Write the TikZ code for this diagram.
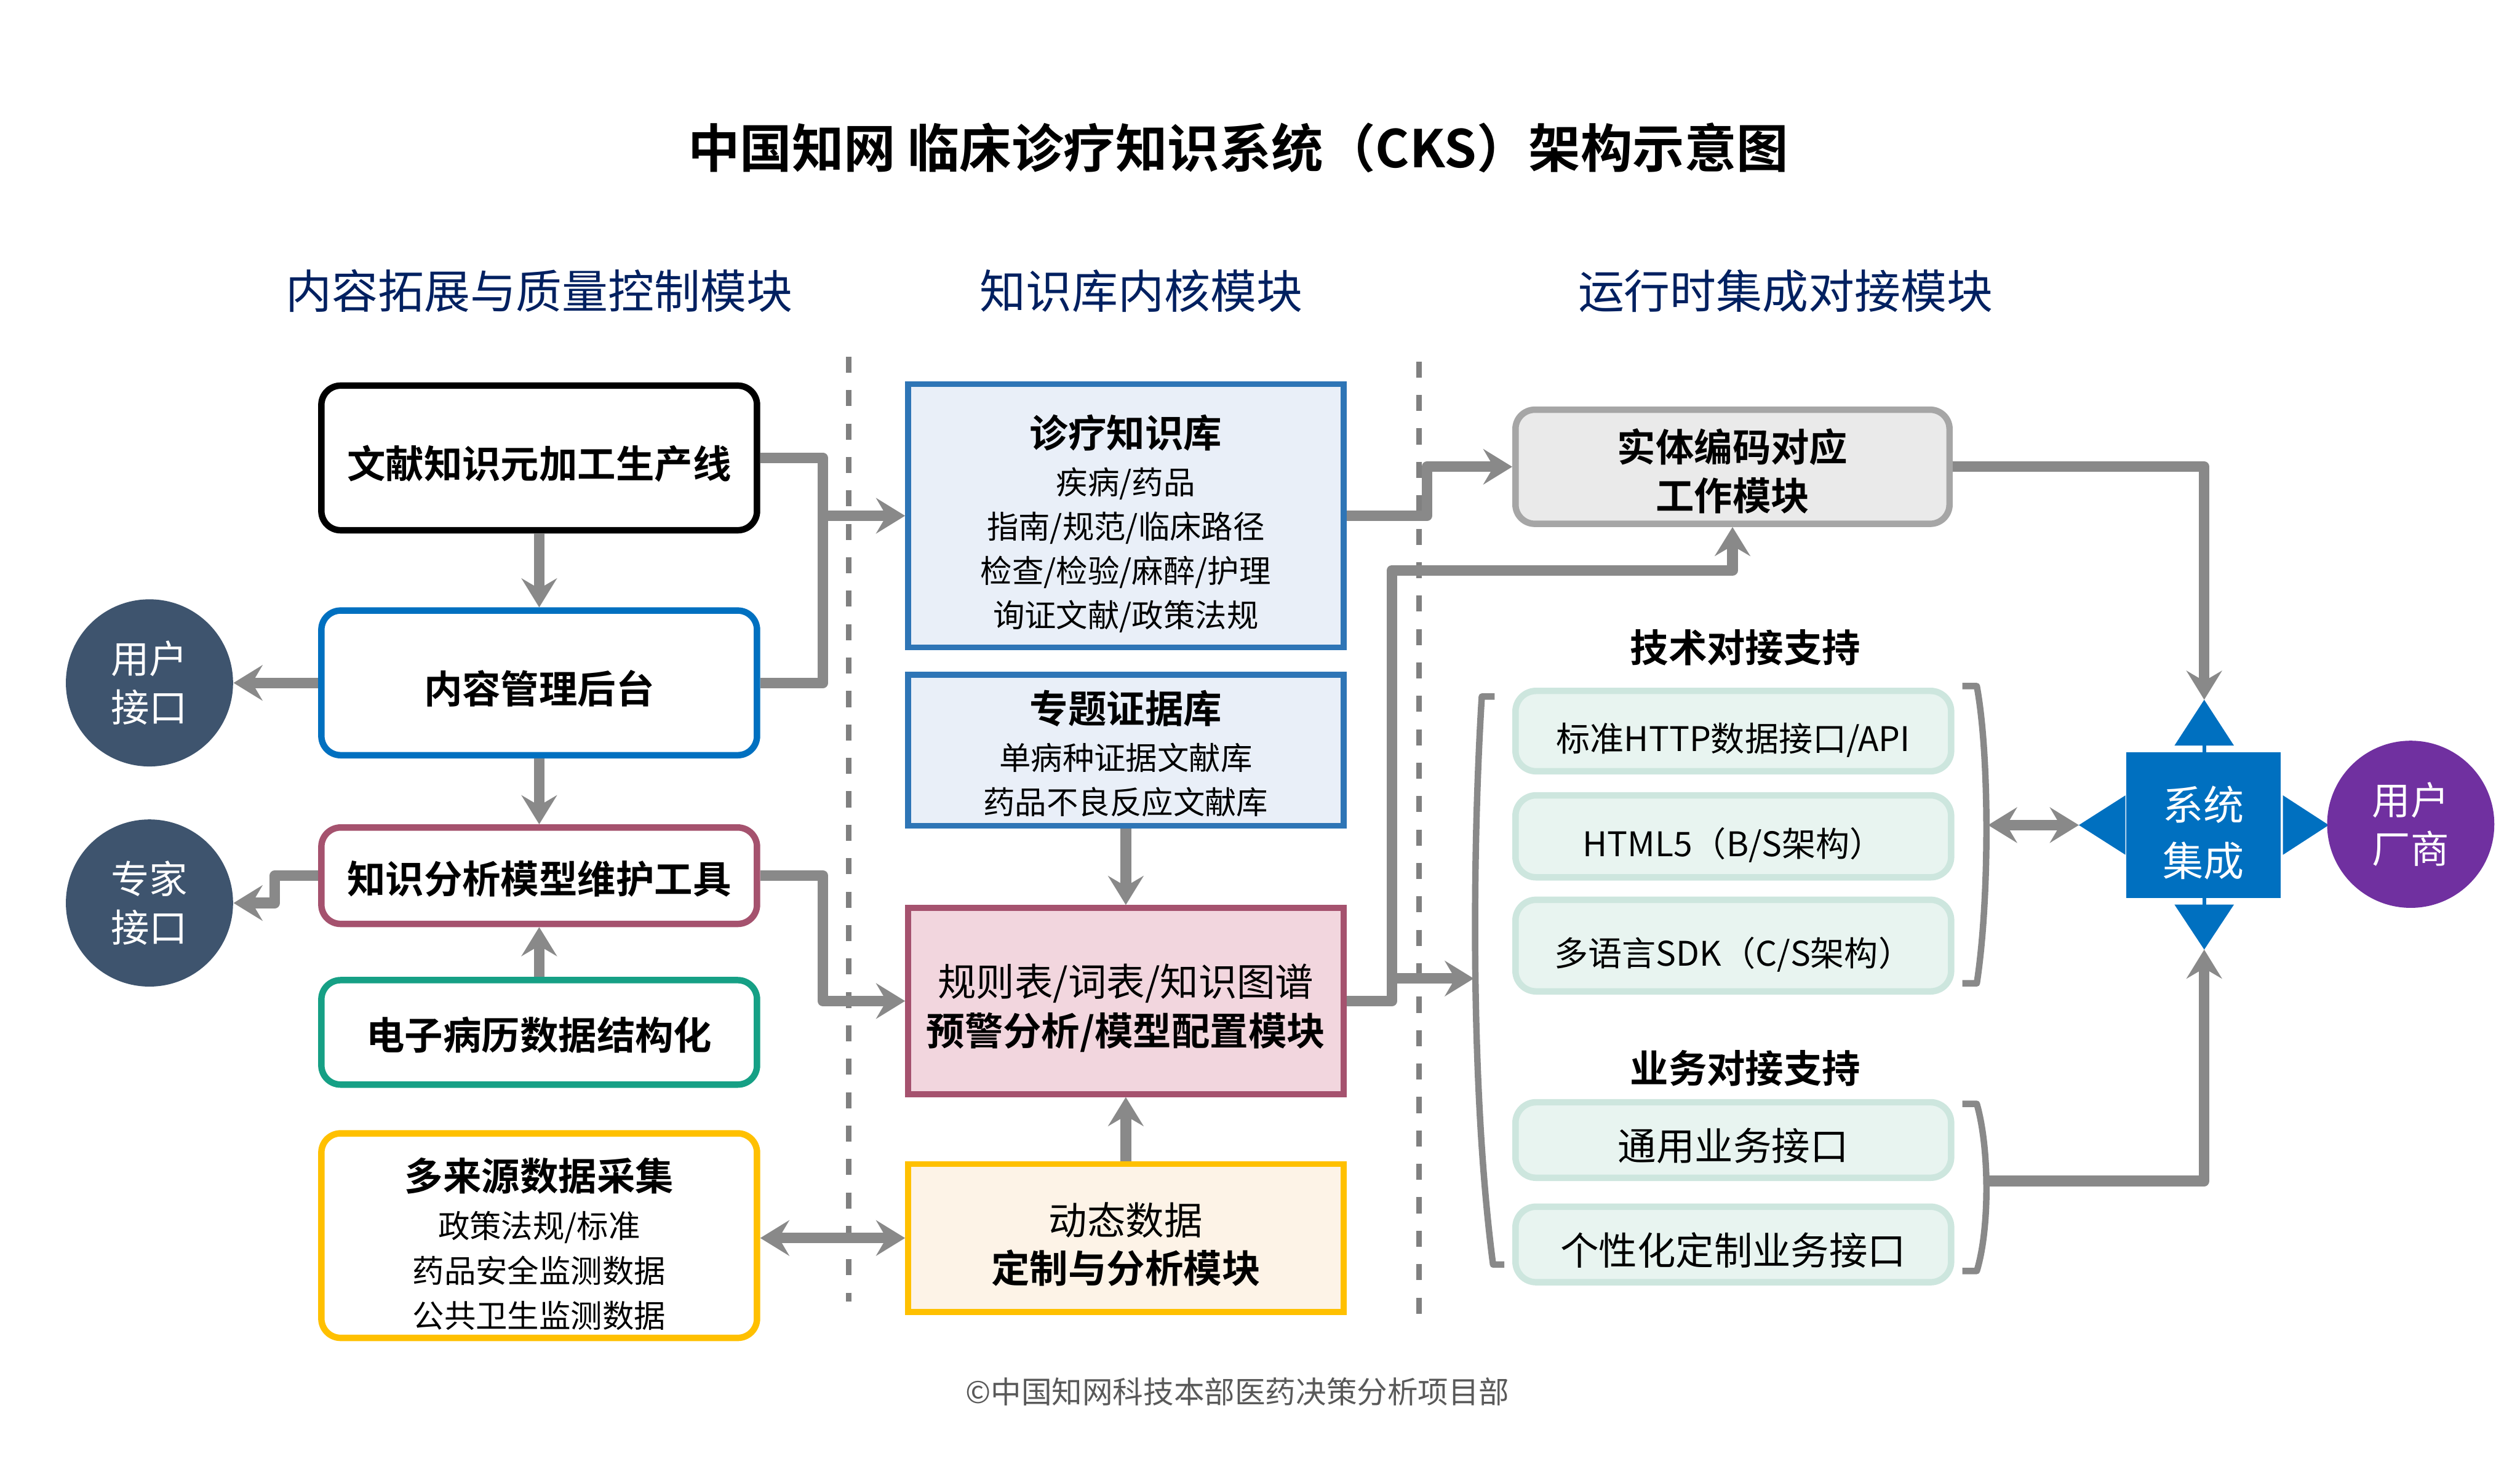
\documentclass[tikz,border=0pt]{standalone}
\usepackage{fontspec}
\setmainfont{Noto Sans CJK SC}[BoldFont={Noto Sans CJK SC Bold}]
\usepackage{tikz}
\usetikzlibrary{arrows.meta}

\definecolor{linegray}{RGB}{137,137,137}
\definecolor{sepgray}{RGB}{128,128,128}
\definecolor{navy}{RGB}{0,32,96}
\definecolor{cmsblue}{RGB}{0,112,192}
\definecolor{mauve}{RGB}{165,82,110}
\definecolor{emrteal}{RGB}{22,160,133}
\definecolor{gold}{RGB}{255,192,0}
\definecolor{kbblue}{RGB}{46,117,182}
\definecolor{kbfill}{RGB}{233,239,248}
\definecolor{rulefill}{RGB}{242,214,222}
\definecolor{dynfill}{RGB}{253,243,231}
\definecolor{entgray}{RGB}{166,166,166}
\definecolor{entfill}{RGB}{234,234,234}
\definecolor{mintline}{RGB}{205,230,222}
\definecolor{mintfill}{RGB}{232,244,240}
\definecolor{slate}{RGB}{62,84,110}
\definecolor{sysblue}{RGB}{0,112,192}
\definecolor{vendor}{RGB}{112,48,160}
\definecolor{footgray}{RGB}{89,89,89}

% invisible strut that sets the text a little lower in its box
\newcommand{\textdrop}[1]{\rule{0pt}{#1}}
\newcommand{\boxtitle}[2][21.5pt]{{\bfseries\fontsize{17pt}{21pt}\selectfont\textdrop{#1}#2}}

\begin{document}
\begin{tikzpicture}[x=0.025cm, y=-0.025cm,
    >={Stealth[length=0.45cm, width=0.55cm, inset=0.16cm]},
    conn/.style={draw=linegray, line width=0.165cm, line join=round},
    arr/.style={conn, ->},
    dbl/.style={conn, <->},
    sep/.style={draw=sepgray, line width=0.09cm, dash pattern=on 0.25cm off 0.27cm},
    leftbox/.style={draw, line width=0.1cm, rounded corners=0.3cm, fill=white, minimum width=6.775cm,
      align=center, font=\bfseries\fontsize{17pt}{21pt}\selectfont},
    kbbox/.style={draw=kbblue, fill=kbfill, line width=0.09cm, minimum width=6.775cm,
      align=center, font=\fontsize{14pt}{19.6pt}\selectfont},
    mintbox/.style={draw=mintline, fill=mintfill, line width=0.1cm, rounded corners=0.32cm,
      minimum width=6.775cm, align=center},
    orb/.style={circle, fill=slate, text=white, minimum size=2.6cm, inner sep=0pt,
      align=center, font=\fontsize{17pt}{21.3pt}\selectfont},
    colhead/.style={text=navy, font=\fontsize{20.4pt}{24pt}\selectfont},
    grouplabel/.style={font=\bfseries\fontsize{17pt}{21pt}\selectfont},
    bracket/.style={draw=linegray, line width=0.1cm, line join=round}]
  \useasboundingbox (0,0) rectangle (1568,913);

  % headings
  \node[font=\bfseries\fontsize{23pt}{28pt}\selectfont] (title) at (770.5,92) {中国知网 临床诊疗知识系统（CKS）架构示意图};
  \node[colhead] (hleft) at (335.5,181) {内容拓展与质量控制模块};
  \node[colhead] (hmid) at (710,181) {知识库内核模块};
  \node[colhead] (hright) at (1111,181) {运行时集成对接模块};

  % column separators
  \draw[sep] (528,222) -- (528,810);
  \draw[sep] (883,225) -- (883,826);

  % left column
  \node[leftbox, draw=black, minimum height=2.25cm] (lit) at (335.5,285) {\textdrop{19.5pt}文献知识元加工生产线};
  \node[leftbox, draw=cmsblue, minimum height=2.25cm] (cms) at (335.5,425) {\textdrop{19.5pt}内容管理后台};
  \node[leftbox, draw=mauve, minimum height=1.5cm] (tool) at (335.5,545) {\textdrop{17pt}知识分析模型维护工具};
  \node[leftbox, draw=emrteal, minimum height=1.625cm] (emr) at (335.5,642.5) {\textdrop{17pt}电子病历数据结构化};
  \node[leftbox, draw=gold, minimum height=3cm, font=\fontsize{14pt}{19.9pt}\selectfont] (src) at (335.5,769)
    {\boxtitle[22pt]{多来源数据采集}\\[1pt]政策法规/标准\\药品安全监测数据\\公共卫生监测数据};
  \node[orb] (user) at (93,425) {用户\\接口};
  \node[orb] (expert) at (93,562) {专家\\接口};

  % knowledge core
  \node[kbbox, minimum height=4.1cm] (kb) at (700.5,321)
    {\boxtitle{诊疗知识库}\\[1pt]疾病/药品\\指南/规范/临床路径\\检查/检验/麻醉/护理\\询证文献/政策法规};
  \node[kbbox, minimum height=2.35cm] (topic) at (700.5,467)
    {\boxtitle[17.5pt]{专题证据库}\\[1pt]单病种证据文献库\\药品不良反应文献库};
  \node[kbbox, draw=mauve, fill=rulefill, minimum height=2.9cm, font=\fontsize{17pt}{22pt}\selectfont] (rule) at (700.5,623)
    {\textdrop{20.5pt}规则表/词表/知识图谱\\\textbf{预警分析/模型配置模块}};
  \node[kbbox, draw=gold, fill=dynfill, minimum height=2.3cm, font=\fontsize{17pt}{21.3pt}\selectfont] (dyn) at (700.5,770.5)
    {\textdrop{20pt}动态数据\\\textbf{定制与分析模块}};

  % runtime integration
  \node[leftbox, draw=entgray, fill=entfill, minimum width=6.75cm, minimum height=1.775cm,
    font=\bfseries\fontsize{17pt}{21.3pt}\selectfont] (entity) at (1078,290.5) {\textdrop{18.5pt}实体编码对应\\工作模块};
  \node[grouplabel] (techlbl) at (1086,403) {技术对接支持};
  \node[mintbox, minimum height=1.25cm, font=\fontsize{15pt}{18pt}\selectfont] (api) at (1078.5,455) {\textdrop{20.5pt}标准HTTP数据接口/API};
  \node[mintbox, minimum height=1.275cm, font=\fontsize{15pt}{18pt}\selectfont] (h5) at (1078.5,520.5) {\textdrop{20.5pt}HTML5（B/S架构）};
  \node[mintbox, minimum height=1.425cm, font=\fontsize{15pt}{18pt}\selectfont] (sdk) at (1078.5,588.5) {\textdrop{20.5pt}多语言SDK（C/S架构）};
  \node[grouplabel] (bizlbl) at (1086,665) {业务对接支持};
  \node[mintbox, minimum height=1.175cm, font=\fontsize{17pt}{20pt}\selectfont] (gen) at (1078.5,709.5) {\textdrop{19.5pt}通用业务接口};
  \node[mintbox, minimum height=1.175cm, font=\fontsize{17pt}{20pt}\selectfont] (cust) at (1078.5,774.5) {\textdrop{19.5pt}个性化定制业务接口};

  % brackets round the interface groups
  \draw[bracket] (930,433.5) -- (922,433.5) .. controls (916,530) and (915,680) .. (929,787) -- (936,787);
  \draw[bracket] (1221,427) -- (1230,427) .. controls (1238,470) and (1238,560) .. (1230,612) -- (1221,612);
  \draw[bracket] (1221,687) -- (1230,687) .. controls (1238,715) and (1238,765) .. (1230,791) -- (1221,791);
  \coordinate (grpL) at (917,609);
  \coordinate (techR) at (1237,513.5);
  \coordinate (bizR) at (1237,735);

  % integration hub
  \node[fill=sysblue, text=white, minimum width=2.4cm, minimum height=2.275cm, align=center,
    font=\fontsize{18pt}{25pt}\selectfont] (sys) at (1371,513.5) {\textdrop{22pt}系统\\集成};
  \fill[sysblue] (1353,464) -- (1390,464) -- (1371.5,435.5) -- cycle;
  \fill[sysblue] (1353,563) -- (1390,563) -- (1371.5,591) -- cycle;
  \fill[sysblue] (1322.5,495) -- (1322.5,532) -- (1293.5,513.5) -- cycle;
  \fill[sysblue] (1420.5,495) -- (1420.5,532) -- (1449,513.5) -- cycle;
  \draw[sysblue, line width=0.06cm] (1371.5,463) -- (1371.5,469) (1371.5,558) -- (1371.5,564);
  \coordinate (sysN) at (1371.5,435.5);
  \coordinate (sysS) at (1371.5,591);
  \coordinate (sysW) at (1293.5,513.5);
  \node[orb, fill=vendor] (vendor) at (1500,513) {用户\\厂商};

  % connectors, left column
  \draw[arr] (lit) -- (cms);
  \draw[arr] (cms) -- (tool);
  \draw[arr] (emr) -- (tool);
  \draw[arr] (cms) -- (user);
  \draw[arr] (tool.west) -- ++(-27,0) |- (expert);
  \coordinate (kbin) at (512,321);
  \draw[conn] (lit.east) -| (kbin) |- (cms.east);
  \draw[arr] (kbin) -- (kb);
  \draw[arr] (tool.east) -- ++(39,0) |- (rule);
  \draw[dbl] (src.east |- dyn.west) -- (dyn.west);

  % connectors, knowledge core
  \draw[arr] (topic) -- (rule);
  \draw[arr] (dyn) -- (rule);
  \draw[arr] (kb.east) -- ++(50,0) |- (entity);
  \coordinate (rulebus) at (866,355);
  \draw[arr] (rule.east) -| (rulebus) -| (entity.south);
  \draw[arr] (rulebus |- grpL) -- (grpL);

  % connectors, integration
  \draw[arr] (entity.east) -| (sysN);
  \draw[dbl] (techR) -- (sysW);
  \draw[arr] (bizR) -| (sysS);

  \node[font=\fontsize{13.5pt}{16pt}\selectfont, text=footgray] (credit) at (770,866) {©中国知网科技本部医药决策分析项目部};
\end{tikzpicture}
\end{document}
